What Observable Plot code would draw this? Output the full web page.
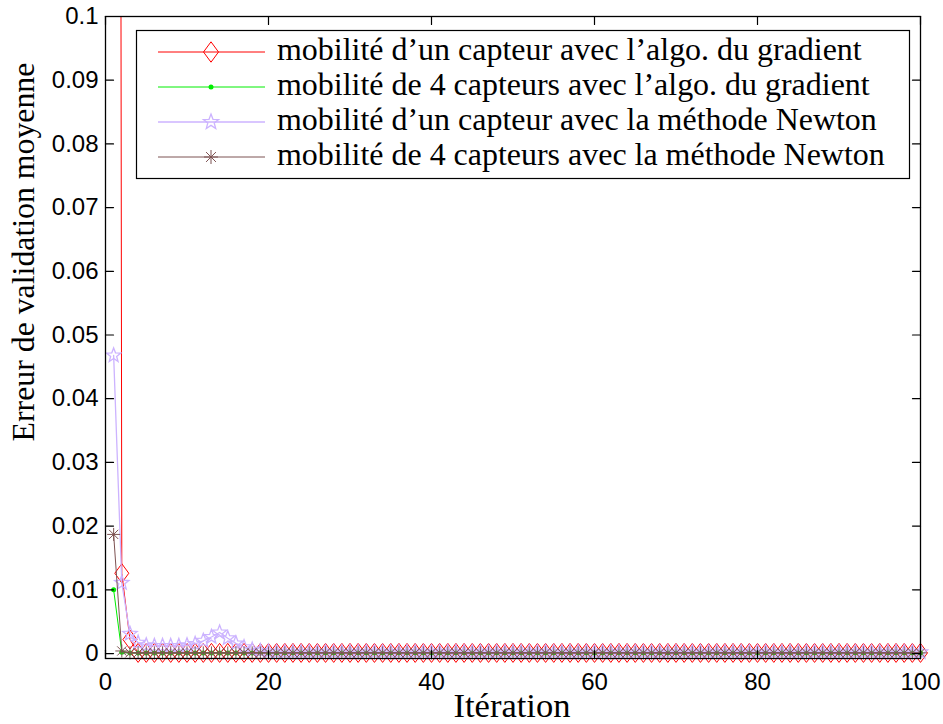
<!DOCTYPE html>
<html><head><meta charset="utf-8">
<script src="https://cdn.jsdelivr.net/npm/d3@7"></script>
<script src="https://cdn.jsdelivr.net/npm/@observablehq/plot@0.6"></script>
<style>html,body{margin:0;padding:0;background:#fff;} #chart{width:943px;height:724px;}</style>
</head><body><div id="chart"></div>
<script>
const seriesNames = [
  "mobilité d’un capteur avec l’algo. du gradient",
  "mobilité de 4 capteurs avec l’algo. du gradient",
  "mobilité d’un capteur avec la méthode Newton",
  "mobilité de 4 capteurs avec la méthode Newton"
];
const seriesColors = ["#ff0000", "#00ee00", "#ccb3ff", "#7d5252"];
const xTicks = [0, 20, 40, 60, 80, 100];
const yTicks = [0, 0.01, 0.02, 0.03, 0.04, 0.05, 0.06, 0.07, 0.08, 0.09, 0.1];
const xLabel = "Itération";
const yLabel = "Erreur de validation moyenne";

const gradientOne = [
0.9,0.0126,0.0022,0.0001,0.0001,0.0001,0.0001,0.0001,0.0001,0.0001,
0.0001,0.0001,0.0001,0.0001,0.0001,0.0001,0.0001,0.0001,0.0001,0.0001,
0.0001,0.0001,0.0001,0.0001,0.0001,0.0001,0.0001,0.0001,0.0001,0.0001,
0.0001,0.0001,0.0001,0.0001,0.0001,0.0001,0.0001,0.0001,0.0001,0.0001,
0.0001,0.0001,0.0001,0.0001,0.0001,0.0001,0.0001,0.0001,0.0001,0.0001,
0.0001,0.0001,0.0001,0.0001,0.0001,0.0001,0.0001,0.0001,0.0001,0.0001,
0.0001,0.0001,0.0001,0.0001,0.0001,0.0001,0.0001,0.0001,0.0001,0.0001,
0.0001,0.0001,0.0001,0.0001,0.0001,0.0001,0.0001,0.0001,0.0001,0.0001,
0.0001,0.0001,0.0001,0.0001,0.0001,0.0001,0.0001,0.0001,0.0001,0.0001,
0.0001,0.0001,0.0001,0.0001,0.0001,0.0001,0.0001,0.0001,0.0001,0.0001];
const gradientFour = [
0.0100,0.0002,0.0001,0.0001,0.0001,0.0001,0.0001,0.0001,0.0001,0.0001,
0.0001,0.0001,0.0001,0.0001,0.0001,0.0001,0.0001,0.0001,0.0001,0.0001,
0.0001,0.0001,0.0001,0.0001,0.0001,0.0001,0.0001,0.0001,0.0001,0.0001,
0.0001,0.0001,0.0001,0.0001,0.0001,0.0001,0.0001,0.0001,0.0001,0.0001,
0.0001,0.0001,0.0001,0.0001,0.0001,0.0001,0.0001,0.0001,0.0001,0.0001,
0.0001,0.0001,0.0001,0.0001,0.0001,0.0001,0.0001,0.0001,0.0001,0.0001,
0.0001,0.0001,0.0001,0.0001,0.0001,0.0001,0.0001,0.0001,0.0001,0.0001,
0.0001,0.0001,0.0001,0.0001,0.0001,0.0001,0.0001,0.0001,0.0001,0.0001,
0.0001,0.0001,0.0001,0.0001,0.0001,0.0001,0.0001,0.0001,0.0001,0.0001,
0.0001,0.0001,0.0001,0.0001,0.0001,0.0001,0.0001,0.0001,0.0001,0.0001];
const newtonOne = [
0.0468,0.0111,0.0031,0.0017,0.0013,0.0012,0.0012,0.0012,0.0012,0.0013,
0.0015,0.0020,0.0026,0.0033,0.0024,0.0016,0.0010,0.0006,0.0004,0.0003,
0.0002,0.0002,0.0002,0.0002,0.0002,0.0002,0.0002,0.0002,0.0002,0.0002,
0.0002,0.0002,0.0002,0.0002,0.0002,0.0002,0.0002,0.0002,0.0002,0.0002,
0.0002,0.0002,0.0002,0.0002,0.0002,0.0002,0.0002,0.0002,0.0002,0.0002,
0.0002,0.0002,0.0002,0.0002,0.0002,0.0002,0.0002,0.0002,0.0002,0.0002,
0.0002,0.0002,0.0002,0.0002,0.0002,0.0002,0.0002,0.0002,0.0002,0.0002,
0.0002,0.0002,0.0002,0.0002,0.0002,0.0002,0.0002,0.0002,0.0002,0.0002,
0.0002,0.0002,0.0002,0.0002,0.0002,0.0002,0.0002,0.0002,0.0002,0.0002,
0.0002,0.0002,0.0002,0.0002,0.0002,0.0002,0.0002,0.0002,0.0002,0.0002];
const newtonFour = [
0.0187,0.0004,0.0001,0.0001,0.0001,0.0001,0.0001,0.0001,0.0001,0.0001,
0.0001,0.0001,0.0001,0.0001,0.0001,0.0001,0.0001,0.0001,0.0001,0.0001,
0.0001,0.0001,0.0001,0.0001,0.0001,0.0001,0.0001,0.0001,0.0001,0.0001,
0.0001,0.0001,0.0001,0.0001,0.0001,0.0001,0.0001,0.0001,0.0001,0.0001,
0.0001,0.0001,0.0001,0.0001,0.0001,0.0001,0.0001,0.0001,0.0001,0.0001,
0.0001,0.0001,0.0001,0.0001,0.0001,0.0001,0.0001,0.0001,0.0001,0.0001,
0.0001,0.0001,0.0001,0.0001,0.0001,0.0001,0.0001,0.0001,0.0001,0.0001,
0.0001,0.0001,0.0001,0.0001,0.0001,0.0001,0.0001,0.0001,0.0001,0.0001,
0.0001,0.0001,0.0001,0.0001,0.0001,0.0001,0.0001,0.0001,0.0001,0.0001,
0.0001,0.0001,0.0001,0.0001,0.0001,0.0001,0.0001,0.0001,0.0001,0.0001];

const seriesValues = [gradientOne, gradientFour, newtonOne, newtonFour];

// custom MATLAB-like marker shapes (r = sqrt(size/PI))
const symDiamond = {draw(ctx, size) {
  const r = Math.sqrt(size / Math.PI), hw = r, hh = r * 1.36;
  ctx.moveTo(0, -hh); ctx.lineTo(hw, 0); ctx.lineTo(0, hh); ctx.lineTo(-hw, 0); ctx.closePath();
}};
const symStar = {draw(ctx, size) {
  const R = Math.sqrt(size / Math.PI), ri = R * 0.42;
  for (let i = 0; i < 10; i++) {
    const a = -Math.PI / 2 + i * Math.PI / 5, rr = i % 2 ? ri : R;
    const x = rr * Math.cos(a), y = rr * Math.sin(a);
    if (i) ctx.lineTo(x, y); else ctx.moveTo(x, y);
  }
  ctx.closePath();
}};
const symAst = {draw(ctx, size) {
  const r = Math.sqrt(size / Math.PI);
  for (let i = 0; i < 4; i++) {
    const a = i * Math.PI / 4, c = r * Math.cos(a), s = r * Math.sin(a);
    ctx.moveTo(-c, -s); ctx.lineTo(c, s);
  }
}};
// plain tick segment shape for vector marks
const tickShape = {draw(ctx, l) { ctx.moveTo(0, 0); ctx.lineTo(0, -l); }};

const yMin = -0.00078, yMax = 0.1;
const rows = seriesValues.map((vals, s) => vals.map((v, i) => ({s, it: i + 1, v})));
const inView = d => d.v <= yMax;

const lineMarks = rows.map((r, s) => Plot.line(r, {x: "it", y: "v", stroke: seriesColors[s], strokeWidth: s === 2 ? 1.3 : 1, clip: true}));
const dotMarks = [
  Plot.dot(rows[0], {filter: inView, x: "it", y: "v", r: 7, symbol: symDiamond, stroke: seriesColors[0], fill: "none", strokeWidth: 1}),
  Plot.dot(rows[1], {filter: inView, x: "it", y: "v", r: 2.5, fill: seriesColors[1], stroke: "none"}),
  Plot.dot(rows[2], {filter: inView, x: "it", y: "v", r: 7.5, symbol: symStar, stroke: seriesColors[2], fill: "none", strokeWidth: 1.3}),
  Plot.dot(rows[3], {filter: inView, x: "it", y: "v", r: 6.5, symbol: symAst, stroke: seriesColors[3], fill: "none", strokeWidth: 1})
];
const tickOpts = {length: 8, anchor: "start", shape: tickShape, stroke: "#000", strokeWidth: 1.2};

const chart = Plot.plot({
  width: 943, height: 724,
  marginLeft: 105, marginRight: 23, marginTop: 16, marginBottom: 66,
  style: {background: "#fff", fontFamily: "'Liberation Sans', Arial, sans-serif", fontSize: "24px", color: "#000"},
  x: {domain: [0, 100]},
  y: {domain: [yMin, yMax]},
  marks: [
    lineMarks[0], dotMarks[0],
    lineMarks[1], dotMarks[1],
    lineMarks[2], dotMarks[2],
    lineMarks[3], dotMarks[3],
    Plot.frame({stroke: "#000", strokeWidth: 1.3}),
    Plot.vector(yTicks, {y: d => d, frameAnchor: "left", rotate: 90, ...tickOpts}),
    Plot.vector(yTicks, {y: d => d, frameAnchor: "right", rotate: -90, ...tickOpts}),
    Plot.vector(xTicks, {x: d => d, frameAnchor: "bottom", rotate: 0, ...tickOpts}),
    Plot.vector(xTicks, {x: d => d, frameAnchor: "top", rotate: 180, ...tickOpts}),
    Plot.axisY({ticks: yTicks, tickSize: 0, tickPadding: 7, label: null, tickFormat: d => String(+d.toFixed(2))}),
    Plot.axisX({ticks: xTicks, tickSize: 0, tickPadding: 14, label: null, tickFormat: d => String(d)})
  ]
});
document.getElementById("chart").appendChild(chart);

const svg = d3.select(chart);
const serif = "'Liberation Serif', 'Times New Roman', serif";
function fit(sel, target) {
  const w = sel.node().getComputedTextLength();
  const fs = parseFloat(sel.attr("font-size"));
  sel.attr("font-size", fs * target / w);
  return fs * target / w;
}
// axis labels
const xl = svg.append("text").text(xLabel).attr("x", 512).attr("y", 717)
  .attr("text-anchor", "middle").attr("font-family", serif).attr("font-size", 26).attr("fill", "#000");
fit(xl, 117);
const yl = svg.append("text").text(yLabel).attr("transform", "translate(34,252) rotate(-90)")
  .attr("text-anchor", "middle").attr("font-family", serif).attr("font-size", 26).attr("fill", "#000");
fit(yl, 379);

// legend
const lg = svg.append("g");
lg.append("rect").attr("x", 136.5).attr("y", 30.5).attr("width", 773).attr("height", 148)
  .attr("fill", "#fff").attr("stroke", "#000").attr("stroke-width", 1.2);
const legendSyms = [
  {type: symDiamond, r: 7.5, fill: "none", sw: 1},
  {type: d3.symbolCircle, r: 2.5, fill: seriesColors[1], sw: 0},
  {type: symStar, r: 8, fill: "none", sw: 1.3},
  {type: symAst, r: 7, fill: "none", sw: 1}
];
let legendFs = null;
seriesNames.forEach((name, i) => {
  const cy = 52 + i * 35;
  lg.append("line").attr("x1", 158).attr("x2", 265).attr("y1", cy).attr("y2", cy)
    .attr("stroke", seriesColors[i]).attr("stroke-width", i === 2 ? 1.3 : 1);
  const sy = legendSyms[i];
  lg.append("path").attr("d", d3.symbol().type(sy.type).size(Math.PI * sy.r * sy.r)())
    .attr("transform", `translate(211,${cy})`)
    .attr("fill", sy.fill === "none" ? "none" : sy.fill)
    .attr("stroke", sy.sw ? seriesColors[i] : "none").attr("stroke-width", sy.sw);
  const t = lg.append("text").text(name).attr("x", 277).attr("y", cy + 8)
    .attr("text-anchor", "start")
    .attr("font-family", serif).attr("font-size", 26).attr("fill", "#000");
  if (i === 0) legendFs = fit(t, 585); else t.attr("font-size", legendFs);
});
</script>
</body></html>
